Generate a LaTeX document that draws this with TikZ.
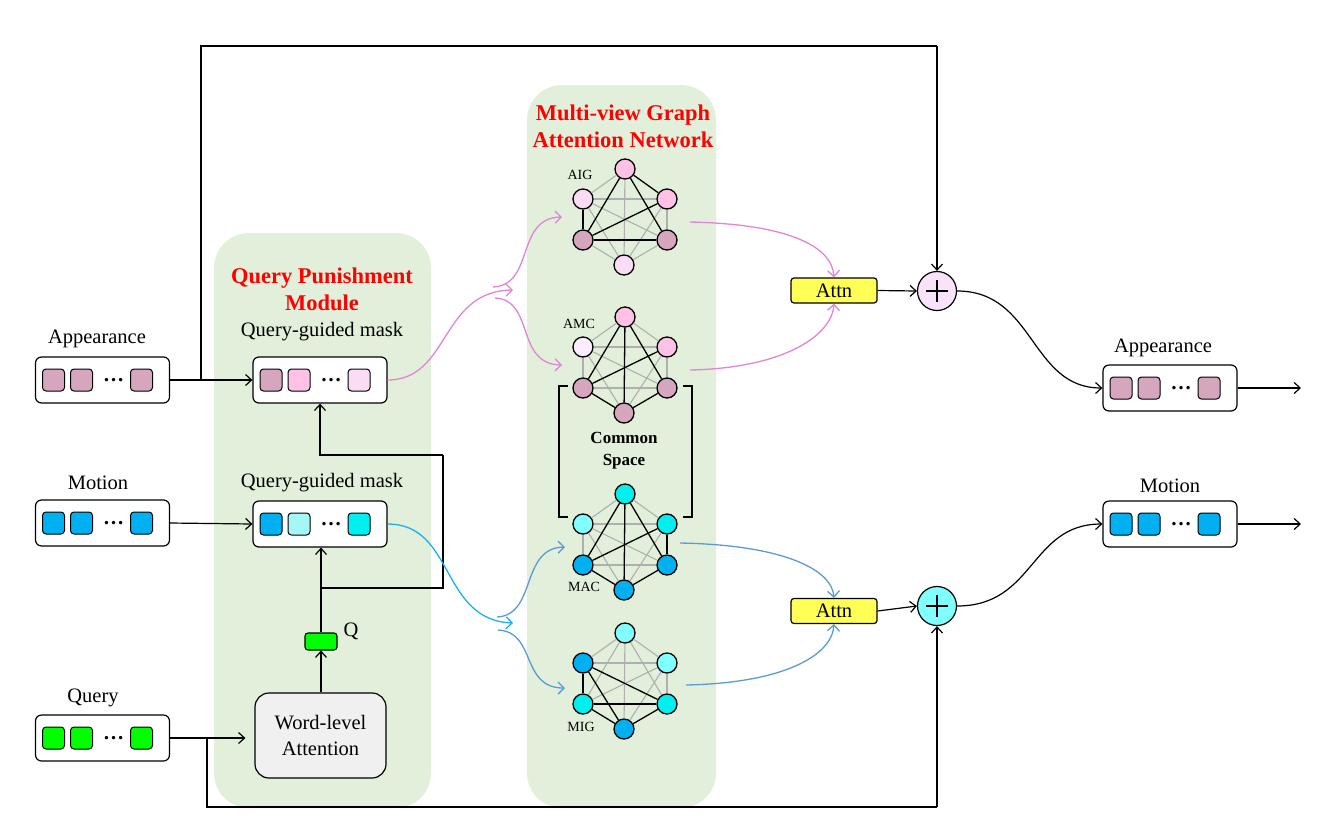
\documentclass[tikz,border=0pt]{standalone}
\usepackage{fontspec}
\setmainfont{Liberation Serif}
\usetikzlibrary{arrows.meta}
\definecolor{bggreen}{HTML}{E2EFDA}
\definecolor{appc}{HTML}{D5A6BD}
\definecolor{pinkc}{HTML}{FFC2E6}
\definecolor{lpinkc}{HTML}{FADCF6}
\definecolor{vlpinkc}{HTML}{FCECFC}
\definecolor{motc}{HTML}{00B0F0}
\definecolor{lcyanc}{HTML}{A5F7F5}
\definecolor{cyanc}{HTML}{00F0F0}
\definecolor{mcyanc}{HTML}{80FFFF}
\definecolor{qc}{HTML}{00FF00}
\definecolor{attnc}{HTML}{FFFF55}
\definecolor{pinkline}{HTML}{E085D5}
\definecolor{blueline}{HTML}{5B9BD5}
\definecolor{skyline}{HTML}{1CB0EE}
\definecolor{plusp}{HTML}{F9E3FA}
\definecolor{plusc}{HTML}{80FFFF}
\definecolor{wlac}{HTML}{F0F0F0}
\definecolor{edgegray}{HTML}{AFAFAF}

\newcommand{\featbox}[6]{%
  \node[vecbox] (#1) at (#2,#3) {};
  \node[sq,fill=#4] (#1a) at (#2-49,#3) {};
  \node[sq,fill=#5] (#1b) at (#2-21,#3) {};
  \node[dotsn] (#1d) at (#2+11,#3) {…};
  \node[sq,fill=#6] (#1c) at (#2+39,#3) {};
}
\newcommand{\mkgraph}[9]{%
  \node[gn,fill=#4] (#1T) at (#2,#3-48) {};
  \node[gn,fill=#5] (#1UL) at (#2-42,#3-18) {};
  \node[gn,fill=#6] (#1UR) at (#2+42,#3-18) {};
  \node[gn,fill=#7] (#1LL) at (#2-42,#3+23) {};
  \node[gn,fill=#8] (#1LR) at (#2+42,#3+23) {};
  \node[gn,fill=#9] (#1B) at (#2-1,#3+48) {};
}

\begin{document}
\begin{tikzpicture}[x=1pt,y=-1pt,
  txt/.style={font=\fontsize{20.5}{24}\selectfont, inner sep=0},
  ttl/.style={font=\fontsize{22.5}{27}\selectfont\bfseries, text=red, align=center, inner sep=0},
  small/.style={font=\fontsize{14}{16}\selectfont, inner sep=0},
  vecbox/.style={draw, line width=1.2, rounded corners=6, minimum width=134, minimum height=46, fill=white},
  sq/.style={draw, line width=1, rounded corners=3.5, minimum size=22, inner sep=0},
  dotsn/.style={font=\fontsize{21}{21}\selectfont\bfseries, inner sep=0},
  gn/.style={draw, circle, line width=1.3, minimum size=20, inner sep=0},
  bedge/.style={line width=1.3, black},
  gedge/.style={line width=1.1, edgegray},
  arr/.style={line width=1.2, -{Straight Barb[length=6pt,width=11pt]}},
  pline/.style={line width=1.3, pinkline, -{Straight Barb[length=6pt,width=12pt]}},
  bline/.style={line width=1.3, blueline, -{Straight Barb[length=6pt,width=12pt]}},
  sline/.style={line width=1.3, skyline, -{Straight Barb[length=6pt,width=12pt]}},
  attnbox/.style={draw, line width=1.2, rounded corners=3, fill=attnc, minimum width=86, minimum height=25, inner sep=0, font=\fontsize{20.5}{24}\selectfont},
  plusn/.style={draw, circle, line width=1.2, minimum size=39, inner sep=0,
     path picture={\draw[line width=1.2] (path picture bounding box.center) +(-11,0) -- +(11,0)
                   (path picture bounding box.center) +(0,-11) -- +(0,11);}},
]
\useasboundingbox (0,0) rectangle (1340,836);

% green module backgrounds
\fill[bggreen, rounded corners=35] (214,233) rectangle (431,808);
\fill[bggreen, rounded corners=35] (527,85) rectangle (716,808);

\node[ttl] (qpm) at (322,289) {Query Punishment\\Module};
\node[ttl] (mgat) at (623,126) {Multi-view Graph\\Attention Network};

% input feature boxes
\featbox{ain}{102.5}{380}{appc}{appc}{appc}
\featbox{min}{102.5}{523}{motc}{motc}{motc}
\featbox{qin}{102.5}{738}{qc}{qc}{qc}
\node[txt] (ainl) at (97,339) {Appearance};
\node[txt] (minl) at (98,483) {Motion};
\node[txt] (qinl) at (93,698) {Query};

% masks
\featbox{mska}{320}{380}{appc}{pinkc}{lpinkc}
\featbox{mskm}{320}{524}{motc}{lcyanc}{cyanc}
\node[txt] (mskal) at (322,332) {Query-guided mask};
\node[txt] (mskml) at (322,483) {Query-guided mask};

% word-level attention
\node[draw, line width=1.2, rounded corners=14, fill=wlac, minimum width=131, minimum height=85, align=center, font=\fontsize{20.5}{26}\selectfont] (wla) at (320.5,735.5) {Word-level\\Attention};
\node[draw, line width=1.1, rounded corners=3, fill=qc, minimum width=32, minimum height=17, inner sep=0] (qv) at (321,641.5) {};
\node[txt] (ql) at (351,631) {Q};

% outputs
\featbox{aout}{1170}{388}{appc}{appc}{appc}
\featbox{mout}{1170}{524}{motc}{motc}{motc}
\node[txt] (aoutl) at (1163,348) {Appearance};
\node[txt] (moutl) at (1170,486) {Motion};
\coordinate (aend) at (1301,388);
\coordinate (mend) at (1301,524);

% attention and sum
\node[attnbox] (at1) at (834,290.5) {Attn};
\node[attnbox] (at2) at (834,611) {Attn};
\node[plusn, fill=plusp] (p1) at (937,291) {};
\node[plusn, fill=plusc] (p2) at (937,606) {};

% graphs
\mkgraph{aig}{625}{217}{pinkc}{lpinkc}{pinkc}{appc}{appc}{lpinkc}
\mkgraph{amc}{625}{365}{pinkc}{vlpinkc}{pinkc}{appc}{appc}{appc}
\mkgraph{mac}{625}{542}{cyanc}{mcyanc}{cyanc}{motc}{motc}{motc}
\mkgraph{mig}{625}{681}{mcyanc}{motc}{mcyanc}{cyanc}{cyanc}{motc}

\foreach \u/\v in {T/UL,T/B,UL/UR,UL/LR,UL/B,UR/LR,UR/B,LL/B,LR/B} \draw[gedge] (aig\u) -- (aig\v);
\foreach \u/\v in {T/UR,T/LL,T/LR,UL/LL,UR/LL,LL/LR} \draw[bedge] (aig\u) -- (aig\v);
\foreach \u/\v in {T/UL,T/UR,UL/UR,UL/LL,UL/LR,UL/B,UR/LR,UR/B,LL/LR} \draw[gedge] (amc\u) -- (amc\v);
\foreach \u/\v in {T/LL,T/LR,T/B,UR/LL,LL/B,LR/B} \draw[bedge] (amc\u) -- (amc\v);
\foreach \u/\v in {T/UL,T/UR,UL/UR,UL/LL,UL/LR,UL/B,UR/B,LL/LR} \draw[gedge] (mac\u) -- (mac\v);
\foreach \u/\v in {T/LL,T/LR,T/B,UR/LL,UR/LR,LL/B,LR/B} \draw[bedge] (mac\u) -- (mac\v);
\foreach \u/\v in {T/UL,T/UR,T/LL,T/LR,T/B,UL/UR,UR/LL,UR/LR,UR/B} \draw[gedge] (mig\u) -- (mig\v);
\foreach \u/\v in {UL/LL,UL/LR,UL/B,LL/LR,LL/B,LR/B} \draw[bedge] (mig\u) -- (mig\v);

\node[small] (aigl) at (580,175) {AIG};
\node[small] (amcl) at (579,324) {AMC};
\node[small] (macl) at (584,587) {MAC};
\node[small] (migl) at (581,727) {MIG};

% common space bracket
\draw[line width=1.3] (568,386) -- (559,386) -- (559,517) -- (568,517);
\draw[line width=1.3] (683,386) -- (692,386) -- (692,517) -- (683,517);
\node[font=\fontsize{17}{22}\selectfont\bfseries, align=center, inner sep=0] (cs) at (624,451) {Common\\Space};

% black connectors
\coordinate (br1) at (201,380);
\coordinate (tl) at (937,46);
\coordinate (br2) at (207,738);
\coordinate (bl) at (937,807);
\coordinate (jq) at (321,588);
\coordinate (jr) at (443,455);
\draw[arr] (ain.east) -- (mska.west);
\draw[line width=1.2] (br1) |- (tl);
\draw[arr] (tl) -- (p1.north);
\draw[arr] (min.east) -- (mskm.west);
\draw[arr, shorten >=9] (qin.east) -- (qin.east -| wla.west);
\draw[line width=1.2] (br2) |- (bl);
\draw[arr] (bl) -- (p2.south);
\draw[arr] (wla.north -| qv.south) -- (qv.south);
\draw[arr] (qv.north) -- (qv.north |- mskm.south);
\draw[line width=1.2] (jq) -| (jr);
\draw[arr] (jr) -| (mska.south);
\draw[arr] (at1.east) -- (p1.west);
\draw[arr] (at2.east) -- (p2.west);
\draw[arr] (p1.east) .. controls (1035,291) and (1030,388) .. (aout.west);
\draw[arr] (p2.east) .. controls (1035,606) and (1030,524) .. (mout.west);
\draw[arr] (aout.east) -- (aend);
\draw[arr] (mout.east) -- (mend);

% pink flows
\coordinate (pk) at (513,290);
\coordinate (pk1) at (493,287);
\coordinate (pk2) at (495,298);
\coordinate (aigin) at (562,217);
\coordinate (amcin) at (562,365);
\draw[pline] (mska.east) .. controls (450,380) and (440,291) .. (pk);
\draw[pline] (pk1) .. controls (535,285) and (515,218) .. (aigin);
\draw[pline] (pk2) .. controls (535,300) and (515,364) .. (amcin);
\coordinate (aigout) at (690,222);
\coordinate (amcout) at (690,370);
\draw[pline] (aigout) .. controls (785,224) and (832,245) .. (at1.north);
\draw[pline] (amcout) .. controls (785,368) and (832,335) .. (at1.south);

% blue flows
\coordinate (bk) at (513,623);
\coordinate (bk1) at (497,617);
\coordinate (bk2) at (498,630);
\coordinate (macin) at (565,547);
\coordinate (migin) at (565,688);
\draw[sline] (mskm.east) .. controls (455,524) and (440,620) .. (bk);
\draw[bline] (bk1) .. controls (537,615) and (520,548) .. (macin);
\draw[bline] (bk2) .. controls (537,632) and (520,688) .. (migin);
\coordinate (macout) at (680,543);
\coordinate (migout) at (686,685);
\draw[bline] (macout) .. controls (785,545) and (832,570) .. (at2.north);
\draw[bline] (migout) .. controls (785,683) and (832,655) .. (at2.south);
\end{tikzpicture}
\end{document}
